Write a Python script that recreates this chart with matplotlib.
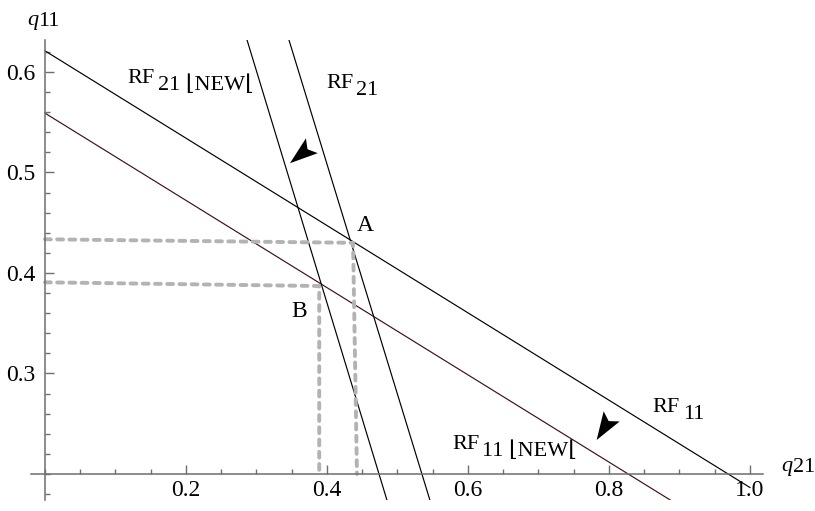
import matplotlib
matplotlib.use("Agg")
import matplotlib.pyplot as plt
import numpy as np
from matplotlib.patches import Polygon
from matplotlib.ticker import MultipleLocator, FixedLocator

plt.rcParams["font.family"] = ["Liberation Serif", "DejaVu Serif"]
plt.rcParams["lines.scale_dashes"] = False

# reaction functions q11 = a - b * q21
rf_names = ["RF11", "RF11_NEW", "RF21", "RF21_NEW"]
rf_intercepts = [0.621, 0.559, 1.4243, 1.293]
rf_slopes = [0.4345, 0.434, 2.29, 2.307]
rf_colors = ["black", "#401018", "black", "black"]
q21_domain = [0.0, 1.0]

# equilibrium guide lines (old equilibrium A, new equilibrium B)
guide_a_q21 = [0.0, 0.437, 0.4425]
guide_a_q11 = [0.4335, 0.430, 0.2]
guide_b_q21 = [0.0, 0.389, 0.389]
guide_b_q11 = [0.3907, 0.387, 0.2]

# shift arrows: (tail, tip)
shift_arrows = [
    ((0.3759, 0.5251), (0.3475, 0.5092)),
    ((0.8028, 0.2562), (0.7825, 0.2338)),
]

x_ticks = [0.2, 0.4, 0.6, 0.8, 1.0]
y_ticks = [0.3, 0.4, 0.5, 0.6]

fig = plt.figure(figsize=(8.15, 5.11), dpi=100)
ax = fig.add_axes([0.0379, 0.02133, 0.8979, 0.9008])
ax.set_xlim(-0.02, 1.018)
ax.set_ylim(0.174, 0.632)

x = np.array(q21_domain)
for a, b, c in zip(rf_intercepts, rf_slopes, rf_colors):
    ax.plot(x, a - b * x, color=c, lw=0.85)

for gx, gy in [(guide_a_q21, guide_a_q11), (guide_b_q21, guide_b_q11)]:
    ax.plot(gx, gy, color="#b3b3b3", lw=2.8, dashes=(4.2, 4.6),
            dash_capstyle="round", solid_capstyle="round")


def arrow_head(ax, tail, tip, length=28, width=9.5):
    # notched arrowhead built in pixel space, then mapped back to data
    p0 = ax.transData.transform(tail)
    p1 = ax.transData.transform(tip)
    u = (p1 - p0) / np.hypot(*(p1 - p0))
    n = np.array([-u[1], u[0]])
    pts = [p1, p1 - length * u + width * n, p1 - 0.8 * length * u,
           p1 - length * u - width * n]
    pts = ax.transData.inverted().transform(np.array(pts))
    ax.add_patch(Polygon(pts, closed=True, color="black", lw=0))


for tail, tip in shift_arrows:
    arrow_head(ax, tail, tip)

# spines crossing at (0, 0.2)
for s in ["top", "right"]:
    ax.spines[s].set_visible(False)
ax.spines["left"].set_position(("data", 0))
ax.spines["bottom"].set_position(("data", 0.2))
for s in ["left", "bottom"]:
    ax.spines[s].set_color("#6e6e6e")
    ax.spines[s].set_linewidth(1.1)

ax.xaxis.set_major_locator(FixedLocator(x_ticks))
ax.xaxis.set_minor_locator(MultipleLocator(0.05))
ax.yaxis.set_major_locator(FixedLocator(y_ticks))
ax.yaxis.set_minor_locator(FixedLocator(np.arange(0.18, 0.621, 0.02)))
ax.set_xticklabels([f"{v:.1f}" for v in x_ticks])
ax.set_yticklabels([f"{v:.1f}" for v in y_ticks])
ax.tick_params(which="both", direction="in", color="#6e6e6e", width=1.0,
               labelsize=17)
ax.tick_params(which="major", length=6.5)
ax.tick_params(which="minor", length=3.8)
ax.tick_params(axis="x", pad=4)
ax.tick_params(axis="y", pad=7)


def sub_label(x, y, main, sub, size=16, italic=False, drop=5, gap=2):
    t = ax.text(x, y, main, fontsize=size, va="baseline", ha="left",
                style="italic" if italic else "normal", clip_on=False)
    ax.annotate(sub, xy=(1, 0), xycoords=t, xytext=(gap, -drop),
                textcoords="offset points", fontsize=size, va="bottom",
                ha="left", annotation_clip=False)


sub_label(0.1173, 0.5894, "RF", "21 \u230aNEW\u230a")
sub_label(0.3986, 0.5838, "RF", "21")
sub_label(0.5773, 0.2245, "RF", "11 \u230aNEW\u230a")
sub_label(0.862, 0.262, "RF", "11")
sub_label(-0.0255, 0.6468, "q", "11", size=16, italic=True, drop=1, gap=0)
sub_label(1.045, 0.203, "q", "21", size=16, italic=True, drop=1, gap=0)

ax.text(0.4426, 0.4418, "A", fontsize=17, va="baseline", ha="left")
ax.text(0.3499, 0.3565, "B", fontsize=17, va="baseline", ha="left")

fig.savefig("out.png", dpi=100)
